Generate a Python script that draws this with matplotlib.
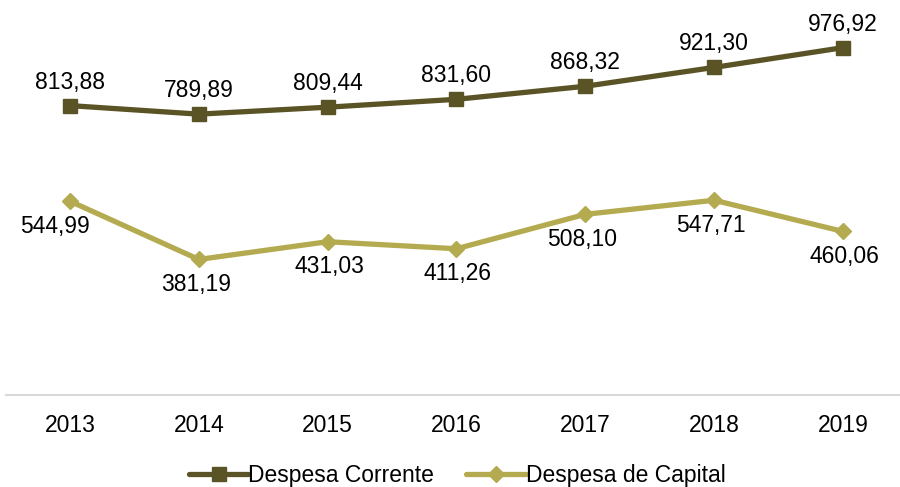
import matplotlib
matplotlib.use("Agg")
import matplotlib.pyplot as plt

years = ["2013", "2014", "2015", "2016", "2017", "2018", "2019"]
corrente = [813.88, 789.89, 809.44, 831.60, 868.32, 921.30, 976.92]
capital = [544.99, 381.19, 431.03, 411.26, 508.10, 547.71, 460.06]
series_names = ["Despesa Corrente", "Despesa de Capital"]

plt.rcParams['font.family'] = ['Liberation Sans Narrow', 'Liberation Sans', 'DejaVu Sans']

fig = plt.figure(figsize=(9, 4.87), dpi=100)
ax = fig.add_axes([0.0062, 0.189, 1.002, 0.803])

c1 = "#5a5326"
c2 = "#b4ab50"
x = list(range(len(years)))

ax.plot(x, corrente, color=c1, lw=3.8, marker="s", markersize=10, label=series_names[0], solid_capstyle="round")
ax.plot(x, capital, color=c2, lw=3.8, marker="D", markersize=8.5, label=series_names[1], solid_capstyle="round")

fs = 16.5
for i, v in enumerate(corrente):
    ax.annotate(f"{v:.2f}".replace(".", ","), (i, v), xytext=(0, 17), textcoords="offset points",
                ha="center", va="center", fontsize=fs, color="black")
for i, v in enumerate(capital):
    dx = -11 if i == 0 else (-2 if i in (1, 4, 5) else 1)
    ax.annotate(f"{v:.2f}".replace(".", ","), (i, v), xytext=(dx, -18), textcoords="offset points",
                ha="center", va="center", fontsize=fs, color="black")

ax.set_xlim(-0.5, len(years) - 0.5)
ax.set_ylim(0, 1100)
ax.set_xticks(x)
ax.set_xticklabels(years, fontsize=fs)
ax.tick_params(axis="x", length=0, pad=14)
ax.set_yticks([])
for s in ["top", "right", "left"]:
    ax.spines[s].set_visible(False)
ax.spines["bottom"].set_color("#d9d9d9")
ax.spines["bottom"].set_linewidth(1.5)

fig.legend(loc="center", bbox_to_anchor=(0.508, 0.024), ncol=2, frameon=False, fontsize=fs,
           handlelength=2.6, handletextpad=0.0, columnspacing=1.4, borderaxespad=0)

fig.savefig("out.png", dpi=100)
